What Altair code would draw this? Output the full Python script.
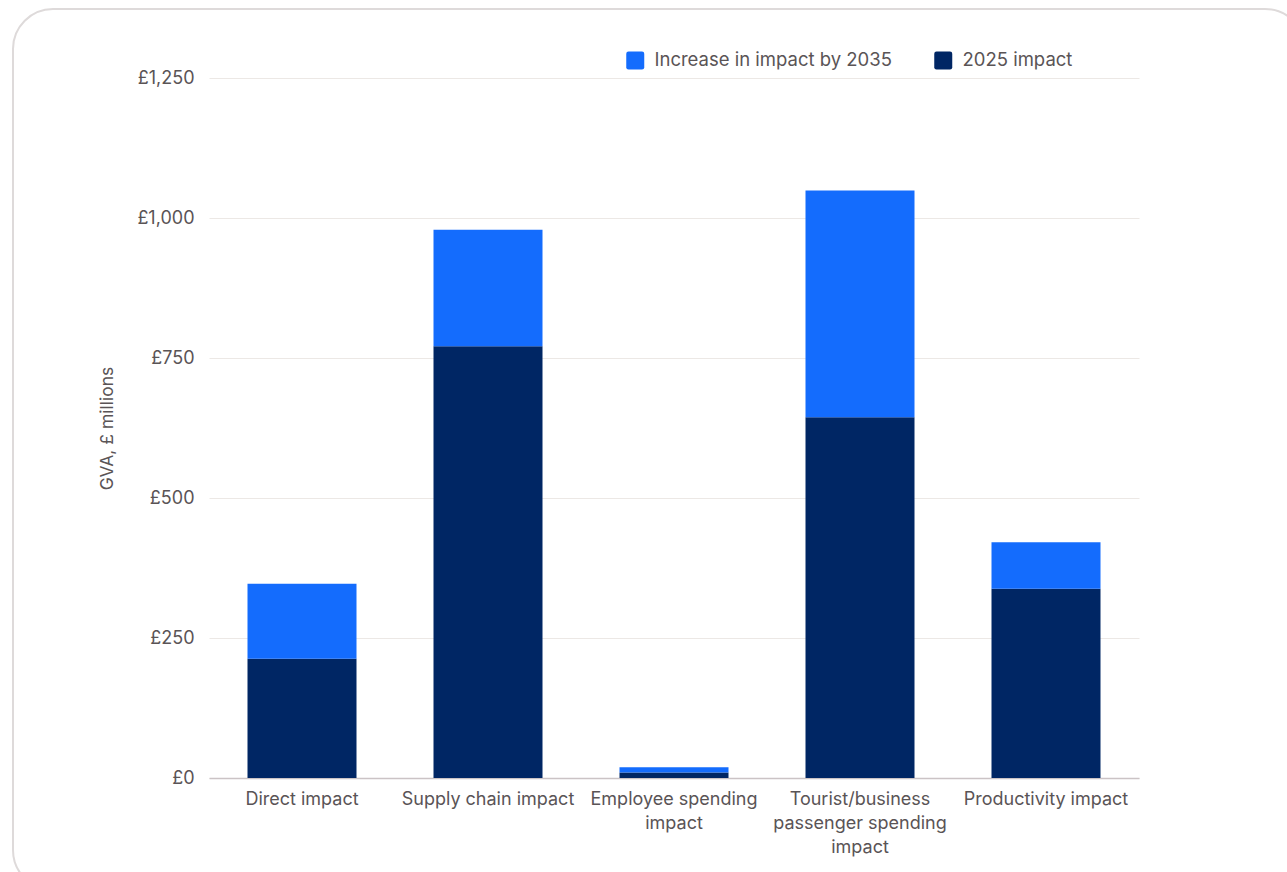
import altair as alt
import pandas as pd

# GVA by impact channel, £ millions
categories = [
    "Direct impact",
    "Supply chain impact",
    "Employee spending impact",
    "Tourist/business passenger spending impact",
    "Productivity impact",
]
impact_2025 = [213, 771, 10, 644, 338]
increase_by_2035 = [134, 208, 9, 405, 83]

series_names = ["Increase in impact by 2035", "2025 impact"]
series_colors = ["#146cfd", "#002664"]

# wrapped axis labels
label_lines = {
    "Employee spending impact": ["Employee spending", "impact"],
    "Tourist/business passenger spending impact": [
        "Tourist/business",
        "passenger spending",
        "impact",
    ],
}

y_ticks = [0, 250, 500, 750, 1000, 1250]

rows = []
for cat, base, inc in zip(categories, impact_2025, increase_by_2035):
    rows.append({"category": cat, "series": "2025 impact", "value": base, "stack": 0})
    rows.append({"category": cat, "series": "Increase in impact by 2035", "value": inc, "stack": 1})
df = pd.DataFrame(rows)

text_color = "#5a5456"
font = "Inter"
font_size = 18

label_expr = "datum.label"
for k, lines in label_lines.items():
    arr = "[" + ", ".join("'" + s + "'" for s in lines) + "]"
    label_expr = f"datum.label == '{k}' ? {arr} : ({label_expr})"

rounded_square = (
    "M -0.75 -1 L 0.75 -1 Q 1 -1 1 -0.75 L 1 0.75 Q 1 1 0.75 1 "
    "L -0.75 1 Q -1 1 -1 0.75 L -1 -0.75 Q -1 -1 -0.75 -1 Z"
)

# rounded card frame around the chart
card = (
    alt.Chart(alt.Data(values=[{"frame": 1}]))
    .mark_rect(cornerRadius=40, fill="transparent", stroke="#dedada", strokeWidth=2)
    .encode(
        x=alt.value(-196),
        x2=alt.value(1096),
        y=alt.value(-69),
        y2=alt.value(812),
    )
)

bars = (
    alt.Chart(df)
    .mark_bar(size=109)
    .encode(
        x=alt.X(
            "category:N",
            sort=categories,
            scale=alt.Scale(paddingInner=0.414, paddingOuter=0.207),
            axis=alt.Axis(
                title=None,
                labelAngle=0,
                labelExpr=label_expr,
                labelFontSize=font_size,
                labelLineHeight=24,
                labelPadding=12,
                labelColor=text_color,
                labelFont=font,
                labelLimit=300,
                ticks=False,
                domain=True,
                domainColor="#cbc3c5",
                domainWidth=1.5,
            ),
        ),
        y=alt.Y(
            "value:Q",
            stack="zero",
            scale=alt.Scale(domain=[0, 1250], nice=False),
            axis=alt.Axis(
                title="GVA, £ millions",
                titleFont=font,
                titleFontSize=17.5,
                titleFontWeight="normal",
                titleColor=text_color,
                titlePadding=20,
                values=y_ticks,
                labelExpr="'£' + format(datum.value, ',')",
                labelFontSize=font_size,
                labelColor=text_color,
                labelFont=font,
                labelPadding=15,
                ticks=False,
                domain=False,
                grid=True,
                gridColor="#ece8e5",
                gridWidth=1,
            ),
        ),
        color=alt.Color(
            "series:N",
            scale=alt.Scale(domain=series_names, range=series_colors),
            legend=alt.Legend(
                title=None,
                orient="none",
                direction="horizontal",
                legendX=417,
                legendY=-27,
                symbolType=rounded_square,
                symbolSize=324,
                symbolStrokeWidth=0,
                symbolOpacity=1,
                labelFontSize=18.5,
                labelFont=font,
                labelColor=text_color,
                labelOffset=10,
                columnPadding=42,
                labelLimit=400,
            ),
        ),
        order=alt.Order("stack:Q"),
    )
)

chart = (
    alt.layer(card, bars)
    .properties(
        width=930,
        height=700,
        autosize=alt.AutoSizeParams(type="none"),
        padding={"left": 209, "top": 78, "right": 148, "bottom": 94},
        background="white",
    )
    .configure_view(stroke=None)
)

chart.save("out.html", embed_options={"renderer": "svg", "actions": False})
